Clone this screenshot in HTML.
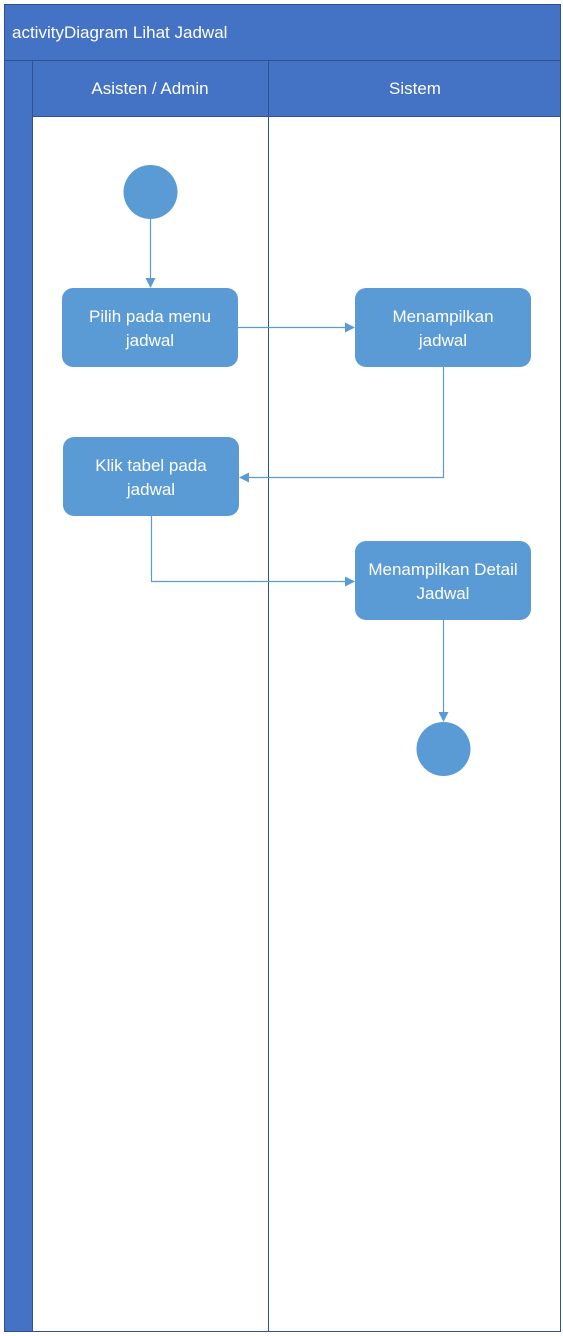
<!DOCTYPE html>
<html><head><style>body{margin:0;background:#fff}svg{display:block}</style></head><body>
<svg width="563" height="1336" xmlns="http://www.w3.org/2000/svg" font-family="Liberation Sans, sans-serif">
<defs><marker id="a" markerWidth="10" markerHeight="10" refX="9" refY="5" orient="auto" markerUnits="userSpaceOnUse"><path d="M0,0 L10,5 L0,10 z" fill="#5b9bd5"/></marker></defs>
<rect x="4.5" y="4.5" width="556" height="1327" fill="#fff" stroke="#2f528f"/>
<rect x="4.5" y="4.5" width="556" height="56" fill="#4472c4" stroke="#2f528f"/>
<text x="12" y="38" fill="#fff" font-size="17">activityDiagram Lihat Jadwal</text>
<rect x="4.5" y="60.5" width="28" height="1271" fill="#4472c4" stroke="#2f528f"/>
<rect x="32.5" y="60.5" width="236" height="56" fill="#4472c4" stroke="#2f528f"/>
<rect x="268.5" y="60.5" width="292" height="56" fill="#4472c4" stroke="#2f528f"/>
<text x="150" y="94" fill="#fff" font-size="17" text-anchor="middle">Asisten / Admin</text>
<text x="415" y="94" fill="#fff" font-size="17" text-anchor="middle">Sistem</text>
<line x1="268.5" y1="116" x2="268.5" y2="1332" stroke="#2f528f"/>
<g stroke="#5b9bd5" stroke-width="1.2" fill="none">
<line x1="150.5" y1="219" x2="150.5" y2="287" marker-end="url(#a)"/>
<line x1="238" y1="327.5" x2="354" y2="327.5" marker-end="url(#a)"/>
<polyline points="443.5,367 443.5,477.5 240,477.5" marker-end="url(#a)"/>
<polyline points="151.5,516 151.5,581.5 354,581.5" marker-end="url(#a)"/>
<line x1="443.5" y1="620" x2="443.5" y2="721" marker-end="url(#a)"/>
</g>
<g fill="#5b9bd5">
<circle cx="150.5" cy="192" r="27"/>
<circle cx="443.5" cy="749" r="27"/>
<rect x="62" y="288" width="176" height="79" rx="11"/>
<rect x="355" y="288" width="176" height="79" rx="11"/>
<rect x="63" y="437" width="176" height="79" rx="11"/>
<rect x="355" y="541" width="176" height="79" rx="11"/>
</g>
<g fill="#fff" font-size="17" text-anchor="middle">
<text x="150" y="322">Pilih pada menu</text><text x="150" y="346">jadwal</text>
<text x="443" y="322">Menampilkan</text><text x="443" y="346">jadwal</text>
<text x="151" y="471">Klik tabel pada</text><text x="151" y="495">jadwal</text>
<text x="443" y="575">Menampilkan Detail</text><text x="443" y="599">Jadwal</text>
</g>
</svg>
</body></html>
